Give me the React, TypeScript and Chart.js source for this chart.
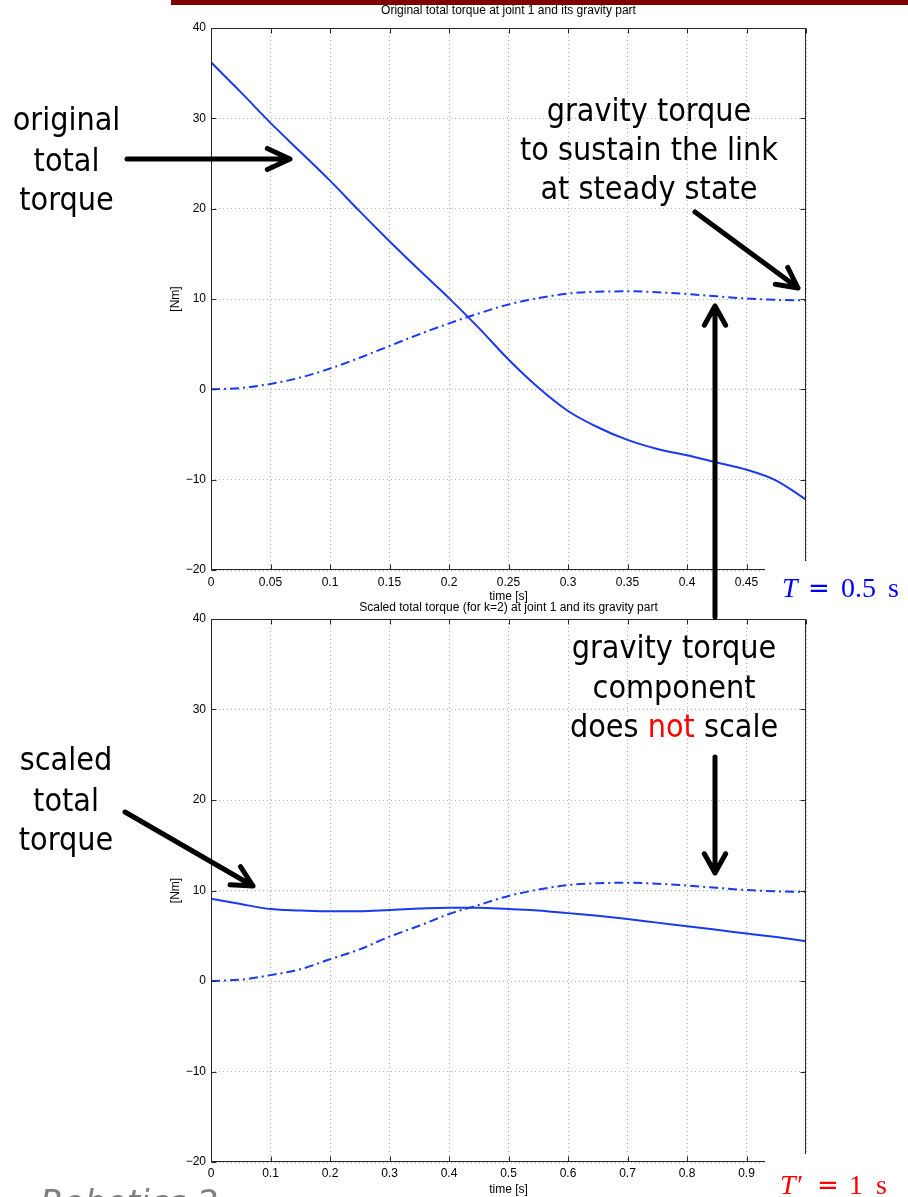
import React, { useEffect, useRef } from "react";
import { Chart, registerables } from "chart.js";

Chart.register(...registerables);

// ---------- data ----------
const TIME_ORIGINAL = [0, 0.025, 0.05, 0.075, 0.1, 0.125, 0.15, 0.175, 0.2, 0.225, 0.25, 0.275, 0.3, 0.325, 0.35, 0.375, 0.4, 0.425, 0.45, 0.475, 0.5];
const TOTAL_ORIGINAL = [36.2, 32.9, 29.5, 26.3, 23.1, 19.7, 16.4, 13.2, 10.1, 6.8, 3.3, 0.2, -2.4, -4.2, -5.6, -6.6, -7.3, -8.1, -8.9, -10.1, -12.2];
const GRAVITY_ORIGINAL = [0, 0.15, 0.6, 1.3, 2.3, 3.5, 4.8, 6.1, 7.3, 8.4, 9.4, 10.1, 10.6, 10.8, 10.85, 10.75, 10.55, 10.3, 10.05, 9.9, 9.85];

const TIME_SCALED = [0, 0.05, 0.1, 0.15, 0.2, 0.25, 0.3, 0.35, 0.4, 0.45, 0.5, 0.55, 0.6, 0.65, 0.7, 0.75, 0.8, 0.85, 0.9, 0.95, 1];
const TOTAL_SCALED = [9.1, 8.5, 7.95, 7.8, 7.7, 7.7, 7.85, 8.0, 8.1, 8.1, 7.95, 7.8, 7.5, 7.2, 6.85, 6.45, 6.05, 5.65, 5.25, 4.85, 4.4];
const GRAVITY_SCALED = [0, 0.15, 0.65, 1.3, 2.4, 3.5, 4.9, 6.1, 7.4, 8.4, 9.4, 10.1, 10.6, 10.8, 10.85, 10.75, 10.55, 10.3, 10.05, 9.9, 9.85];

const X_TICKS_ORIGINAL = [0, 0.05, 0.1, 0.15, 0.2, 0.25, 0.3, 0.35, 0.4, 0.45, 0.5];
const X_TICKS_SCALED = [0, 0.1, 0.2, 0.3, 0.4, 0.5, 0.6, 0.7, 0.8, 0.9, 1];
const Y_TICKS = [-20, -10, 0, 10, 20, 30, 40];

const TITLE_ORIGINAL = "Original total torque at joint 1 and its gravity part";
const TITLE_SCALED = "Scaled total torque (for k=2) at joint 1 and its gravity part";
const X_TITLE = "time [s]";
const Y_TITLE = "[Nm]";

// ---------- styles ----------
const LINE_COLOR = "#1a3af2";
const AXIS_COLOR = "#262626";
const GRID_COLOR = "#b4b4b4";
const CHART_FONT = "'Liberation Sans', Arial, Helvetica, sans-serif";
const NOTE_FONT = "'DejaVu Sans Condensed', 'DejaVu Sans', sans-serif";

const matlabBox = {
  id: "matlabBox",
  afterDatasetsDraw(chart: any) {
    const { ctx, chartArea: a, scales } = chart;
    const L = Math.round(a.left) + 0.5;
    const R = Math.round(a.right) - 0.5;
    const T = Math.round(a.top) + 0.5;
    const B = Math.round(a.bottom) - 0.5;
    ctx.save();
    ctx.strokeStyle = AXIS_COLOR;
    ctx.lineWidth = 1;
    ctx.setLineDash([]);
    ctx.beginPath();
    ctx.rect(L, T, R - L, B - T);
    const tl = 5;
    scales.x.ticks.forEach((t: any) => {
      const px = Math.round(scales.x.getPixelForValue(t.value)) + 0.5;
      ctx.moveTo(px, B);
      ctx.lineTo(px, B - tl);
      ctx.moveTo(px, T);
      ctx.lineTo(px, T + tl);
    });
    scales.y.ticks.forEach((t: any) => {
      const py = Math.round(scales.y.getPixelForValue(t.value)) + 0.5;
      ctx.moveTo(L, py);
      ctx.lineTo(L + tl, py);
      ctx.moveTo(R, py);
      ctx.lineTo(R - tl, py);
    });
    ctx.stroke();
    ctx.restore();
  },
};

type PlotSpec = {
  title: string;
  time: number[];
  total: number[];
  gravity: number[];
  xTicks: number[];
  xMax: number;
  titlePadTop: number;
  titlePadBottom: number;
  xHeight: number;
  xTickPad: number;
  xTitlePad: number;
};

function makeConfig(p: PlotSpec): any {
  const font = { family: CHART_FONT, size: 12, lineHeight: "14px", weight: "normal" as const };
  return {
    type: "line",
    data: {
      datasets: [
        {
          label: "total torque",
          data: p.time.map((t, i) => ({ x: t, y: p.total[i] })),
          borderColor: LINE_COLOR,
          borderWidth: 2,
          pointRadius: 0,
          fill: false,
          cubicInterpolationMode: "monotone",
        },
        {
          label: "gravity torque",
          data: p.time.map((t, i) => ({ x: t, y: p.gravity[i] })),
          borderColor: LINE_COLOR,
          borderWidth: 2,
          borderDash: [9, 4, 2, 4],
          pointRadius: 0,
          fill: false,
          cubicInterpolationMode: "monotone",
        },
      ],
    },
    options: {
      responsive: false,
      animation: false,
      devicePixelRatio: 1,
      events: [],
      layout: { padding: { left: 0, right: 102, top: 0, bottom: 0 } },
      plugins: {
        legend: { display: false },
        tooltip: { enabled: false },
        title: {
          display: true,
          text: p.title,
          fullSize: false,
          color: "#000",
          font,
          padding: { top: p.titlePadTop, bottom: p.titlePadBottom },
        },
      },
      scales: {
        x: {
          type: "linear",
          min: 0,
          max: p.xMax,
          afterBuildTicks: (s: any) => {
            s.ticks = p.xTicks.map((v) => ({ value: v }));
          },
          afterFit: (s: any) => {
            s.height = p.xHeight;
          },
          grid: { color: GRID_COLOR, lineWidth: 1, drawTicks: false },
          border: { display: false, dash: [1, 3] },
          ticks: {
            color: "#000",
            font,
            padding: p.xTickPad,
            maxRotation: 0,
            autoSkip: false,
            callback: (v: number) => String(v),
          },
          title: {
            display: true,
            text: X_TITLE,
            color: "#000",
            font,
            padding: { top: 0, bottom: p.xTitlePad },
          },
        },
        y: {
          type: "linear",
          min: -20,
          max: 40,
          afterBuildTicks: (s: any) => {
            s.ticks = Y_TICKS.map((v) => ({ value: v }));
          },
          afterFit: (s: any) => {
            s.width = 211;
          },
          grid: { color: GRID_COLOR, lineWidth: 1, drawTicks: false },
          border: { display: false, dash: [1, 3] },
          ticks: {
            color: "#000",
            font,
            padding: 5,
            callback: (v: number) => String(v).replace("-", "\u2212"),
          },
          title: {
            display: true,
            text: Y_TITLE,
            color: "#000",
            font,
            padding: { top: 169, bottom: 0 },
          },
        },
      },
    },
    plugins: [matlabBox],
  };
}

function Plot({ spec, top, height }: { spec: PlotSpec; top: number; height: number }) {
  const ref = useRef<HTMLCanvasElement | null>(null);
  useEffect(() => {
    if (!ref.current) return;
    const chart = new Chart(ref.current, makeConfig(spec));
    return () => chart.destroy();
  }, [spec]);
  return (
    <canvas
      ref={ref}
      width={908}
      height={height}
      style={{ position: "absolute", left: 0, top, width: 908, height }}
    />
  );
}

const TOP_SPEC: PlotSpec = {
  title: TITLE_ORIGINAL,
  time: TIME_ORIGINAL,
  total: TOTAL_ORIGINAL,
  gravity: GRAVITY_ORIGINAL,
  xTicks: X_TICKS_ORIGINAL,
  xMax: 0.5,
  titlePadTop: 4,
  titlePadBottom: 10,
  xHeight: 42,
  xTickPad: 6,
  xTitlePad: 8,
};

const BOTTOM_SPEC: PlotSpec = {
  title: TITLE_SCALED,
  time: TIME_SCALED,
  total: TOTAL_SCALED,
  gravity: GRAVITY_SCALED,
  xTicks: X_TICKS_SCALED,
  xMax: 1,
  titlePadTop: 11,
  titlePadBottom: 4,
  xHeight: 35,
  xTickPad: 5,
  xTitlePad: 0,
};

function arrowPath(x1: number, y1: number, x2: number, y2: number, len = 22, deg = 28) {
  const a = Math.atan2(y2 - y1, x2 - x1);
  const r = (deg * Math.PI) / 180;
  const w1x = x2 - len * Math.cos(a - r);
  const w1y = y2 - len * Math.sin(a - r);
  const w2x = x2 - len * Math.cos(a + r);
  const w2y = y2 - len * Math.sin(a + r);
  return `M${x1},${y1} L${x2},${y2} M${w1x},${w1y} L${x2},${y2} L${w2x},${w2y}`;
}

export default function App() {
  const noteStyle: any = { fontStretch: "condensed" };
  return (
    <div
      style={{
        position: "absolute",
        left: 0,
        top: 0,
        width: 908,
        height: 1197,
        background: "#fff",
        overflow: "hidden",
      }}
    >
      <Plot spec={TOP_SPEC} top={0} height={612} />
      <Plot spec={BOTTOM_SPEC} top={590} height={607} />
      <svg
        width={908}
        height={1197}
        style={{ position: "absolute", left: 0, top: 0 }}
      >
        <rect x={171} y={0} width={737} height={5} fill="#7f0000" />
        <rect x={765} y={561} width={143} height={56} fill="#fff" />
        <rect x={765} y={1154} width={143} height={43} fill="#fff" />

        <g fontFamily={NOTE_FONT} fontSize={32} fill="#000" textAnchor="middle" style={noteStyle}>
          <text x={66.5} y={130}>original</text>
          <text x={66.5} y={170.5}>total</text>
          <text x={66.5} y={210}>torque</text>

          <text x={649} y={121}>gravity torque</text>
          <text x={649} y={160}>to sustain the link</text>
          <text x={649} y={199}>at steady state</text>

          <text x={674} y={658}>gravity torque</text>
          <text x={674} y={697.5}>component</text>
          <text x={674} y={737}>
            does <tspan fill="#ff0000">not</tspan> scale
          </text>

          <text x={66} y={770}>scaled</text>
          <text x={66} y={811}>total</text>
          <text x={66} y={850}>torque</text>
        </g>

        <g stroke="#000" strokeWidth={5} fill="none" strokeLinecap="round" strokeLinejoin="round">
          <path d={arrowPath(127, 159, 290, 159, 25, 25)} />
          <path d={arrowPath(695, 212, 798, 288, 23, 27)} />
          <path d={arrowPath(715, 617, 715, 306, 22, 29)} />
          <path d={arrowPath(715, 757, 715, 873, 22, 29)} />
          <path d={arrowPath(125, 812, 253, 886, 23, 27)} />
        </g>

        <text y={597} fill="#0000ff" fontFamily="'Liberation Serif', serif" fontSize={28}>
          <tspan x={782} fontStyle="italic">T</tspan>
          <tspan x={808} fontFamily="'DejaVu Sans', sans-serif" fontSize={26}>=</tspan>
          <tspan x={841}>0.5</tspan>
          <tspan x={888}>s</tspan>
        </text>
        <text y={1194} fill="#ff0000" fontFamily="'Liberation Serif', serif" fontSize={28}>
          <tspan x={780} fontStyle="italic">T′</tspan>
          <tspan x={817} fontFamily="'DejaVu Sans', sans-serif" fontSize={26}>=</tspan>
          <tspan x={849}>1</tspan>
          <tspan x={876}>s</tspan>
        </text>

        <text
          x={40}
          y={1214}
          fill="#808080"
          fontFamily="'DejaVu Sans', sans-serif"
          fontStyle="italic"
          fontSize={34}
        >
          Robotics 2
        </text>
      </svg>
    </div>
  );
}
